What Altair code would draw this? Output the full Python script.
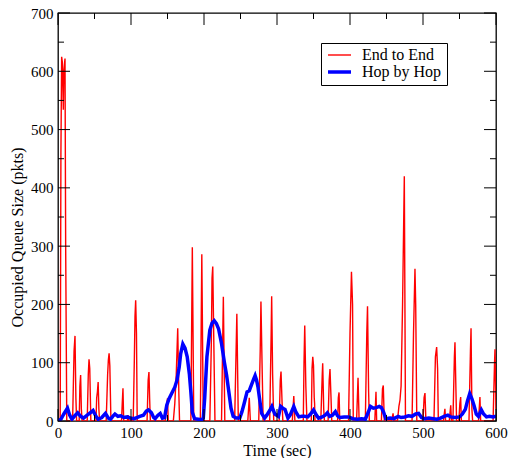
import altair as alt
import pandas as pd

# End to End queue occupancy (time in sec, queue size in pkts)
red_t = [0, 3, 4, 5, 6, 7.3, 8, 9.6, 10.5, 12,
         20, 21, 22, 23.3, 24.5, 25.5, 29, 30, 31, 32, 33,
         40, 41.5, 42.5, 43.5, 45, 52, 53, 54, 55, 56, 57,
         66, 68, 69, 70, 71, 72.5, 87, 88, 89, 90, 95, 96, 97,
         103, 104.5, 105.5, 106.4, 107.5, 108.5, 122, 123.5, 124.6, 125.5, 126.5,
         147, 148.5, 150, 151, 158, 160, 162, 164, 165.5, 166.5,
         182, 184, 186, 195, 197, 199, 208, 210, 211, 212, 213.5, 215,
         224, 226.5, 228.5, 242, 245, 247, 260, 262, 263.5,
         275, 277, 278, 279.5, 281, 290, 292, 292.7, 294, 295.5,
         303, 304.5, 305.5, 307, 308, 321, 323, 324.5,
         336, 337, 338, 339.5, 341, 347, 348, 349, 350, 351, 351.5, 352,
         360, 362, 362.6, 364, 365, 370, 371.5, 372.6, 374, 375,
         383, 384, 385, 386, 398, 400, 402, 403.5, 404.5,
         409, 411, 412.5, 421, 423, 424, 425.5, 426.5,
         434, 435.6, 436.5, 443, 444.5, 445.6, 447,
         457, 459, 460, 465, 467, 468.5, 470, 472, 474.4, 476,
         485, 487, 489, 490, 491.5, 500, 501.5, 502.7, 504,
         515, 517, 518.7, 520, 521, 528, 530, 531, 536, 538, 539,
         541, 543, 543.8, 545, 546, 549, 550.5, 551.6, 552.5,
         563, 565, 565.8, 567, 568, 576, 578, 579, 596, 598, 598.6, 600]
red_v = [0, 0, 460, 625, 615, 534, 600, 622, 300, 0,
         0, 60, 120, 146, 40, 0, 0, 60, 79, 20, 0,
         0, 80, 106, 90, 0, 0, 40, 50, 67, 20, 0,
         0, 80, 105, 116, 95, 0, 0, 30, 56, 0, 0, 10, 0,
         0, 100, 180, 207, 150, 0, 0, 70, 84, 40, 0,
         0, 25, 39, 0, 0, 30, 80, 159, 50, 0,
         0, 298, 0, 0, 286, 0, 0, 130, 245, 265, 130, 0,
         0, 213, 0, 0, 184, 0, 0, 40, 0,
         0, 120, 205, 100, 0, 0, 150, 214, 80, 0,
         0, 70, 85, 30, 0, 0, 43, 0,
         0, 100, 164, 60, 0, 0, 90, 110, 95, 40, 30, 0,
         0, 80, 99, 20, 0, 0, 70, 89, 40, 0,
         0, 40, 49, 0, 0, 150, 256, 200, 0,
         0, 74, 0, 0, 150, 197, 50, 0,
         0, 50, 0, 0, 55, 61, 0,
         0, 13, 0, 0, 25, 36, 60, 200, 420, 0,
         0, 150, 261, 200, 0, 0, 40, 48, 0,
         0, 110, 127, 90, 0, 0, 21, 0, 0, 27, 0,
         0, 110, 135, 60, 0, 0, 30, 41, 0,
         0, 120, 159, 20, 0, 0, 41, 0, 0, 100, 123, 20]

# Hop by Hop queue occupancy
blue_t = [0, 4, 8, 13, 16, 19, 23, 27, 31, 35, 40, 44, 48, 52, 55, 60, 65, 69, 72,
          75, 78, 82, 86, 90, 95, 99, 104, 108, 112, 117, 121, 124, 128, 131, 133,
          137, 140, 143, 146, 149, 152, 156, 160, 163, 166, 168, 171, 174, 177, 180,
          182, 184, 187, 192, 197, 199, 201, 204, 208, 211, 214, 217, 220, 224, 228,
          231, 234, 237, 240, 244, 249, 252, 255, 259, 262, 265, 268, 270, 272, 274,
          277, 279, 283, 286, 290, 293, 297, 302, 305, 308, 311, 315, 318, 323, 326,
          330, 334, 338, 342, 346, 350, 354, 357, 362, 366, 369, 372, 376, 380, 383,
          386, 392, 398, 404, 410, 416, 421, 425, 428, 432, 436, 440, 443, 446, 449,
          455, 460, 466, 470, 475, 480, 485, 490, 494, 498, 502, 508, 514, 519, 524,
          529, 534, 538, 544, 550, 554, 558, 561, 564, 567, 570, 573, 576, 580, 583,
          587, 591, 596, 600]
blue_v = [0, 3, 12, 22, 10, 3, 9, 14, 8, 5, 10, 14, 18, 8, 3, 6, 13, 5, 3,
          8, 12, 8, 9, 6, 7, 5, 4, 6, 8, 10, 17, 19, 14, 6, 4,
          10, 13, 5, 6, 27, 38, 48, 58, 70, 92, 115, 132, 125, 110, 80,
          50, 15, 4, 3, 2, 5, 40, 110, 156, 168, 172, 167, 158, 133, 100,
          78, 50, 22, 8, 5, 5, 16, 30, 50, 52, 62, 72, 78, 70, 58,
          30, 13, 5, 10, 18, 25, 12, 8, 25, 22, 20, 5, 10, 25, 15,
          7, 8, 8, 7, 12, 19, 10, 5, 7, 10, 14, 8, 10, 16, 9,
          6, 7, 7, 4, 3, 4, 3, 15, 25, 22, 23, 25, 23, 15, 4,
          5, 4, 8, 6, 7, 9, 8, 12, 13, 6, 4, 5, 4, 3, 5,
          8, 10, 7, 6, 7, 12, 20, 35, 47, 38, 26, 12, 8, 19, 12,
          7, 8, 7, 8]

series_names = ["End to End", "Hop by Hop"]
series_colors = ["#ff0000", "#0000ff"]
series_widths = [1.4, 3.5]

x_major = [0, 100, 200, 300, 400, 500, 600]
x_minor = [50, 150, 250, 350, 450, 550]
y_major = [0, 100, 200, 300, 400, 500, 600, 700]
y_minor = [50, 150, 250, 350, 450, 550, 650]

FONT = "Liberation Serif"
W, H = 438, 408
MAJOR, MINOR = 12, 6

lines_df = pd.concat([
    pd.DataFrame({"t": red_t, "v": red_v, "series": series_names[0]}),
    pd.DataFrame({"t": blue_t, "v": blue_v, "series": series_names[1]}),
], ignore_index=True)
lines_df["idx"] = range(len(lines_df))

x_scale = alt.Scale(domain=[0, 600], nice=False, zero=False)
y_scale = alt.Scale(domain=[0, 700], nice=False, zero=False)

# one axis definition per channel, shared by every layer so they merge cleanly
x_axis = alt.Axis(
    values=x_major, ticks=False, tickSize=0, domain=False, grid=False,
    labelFlush=False,
    labelFont=FONT, labelFontSize=15, labelColor="black", labelPadding=4,
    title="Time (sec)", titleFont=FONT, titleFontSize=16, titleFontWeight="normal",
    titleColor="black", titleX=W / 2, titleY=29, titleBaseline="middle",
    titleAlign="center")
y_axis = alt.Axis(
    values=y_major, ticks=False, tickSize=0, domain=False, grid=False,
    labelFlush=False,
    labelFont=FONT, labelFontSize=15, labelColor="black", labelPadding=5,
    labelBaseline="middle",
    title="Occupied Queue Size (pkts)", titleFont=FONT, titleFontSize=16,
    titleFontWeight="normal", titleColor="black", titleX=-41, titleY=224,
    titleBaseline="middle", titleAlign="center", titleAngle=270)

legend = alt.Legend(
    title=None, orient="none", legendX=263, legendY=30,
    strokeColor="black", fillColor="white", padding=5, rowPadding=1,
    clipHeight=14,
    labelFont=FONT, labelFontSize=16, labelColor="black", labelOffset=9,
    symbolType="stroke", symbolSize=529, symbolOpacity=1,
)

X = alt.X("t:Q", scale=x_scale, axis=x_axis)
Y = alt.Y("v:Q", scale=y_scale, axis=y_axis)

lines = alt.Chart(lines_df).mark_line(clip=True).encode(
    x=X,
    y=Y,
    color=alt.Color("series:N", scale=alt.Scale(domain=series_names, range=series_colors),
                    legend=legend),
    strokeWidth=alt.StrokeWidth("series:N",
                                scale=alt.Scale(domain=series_names, range=series_widths),
                                legend=legend),
    detail="series:N",
    order="idx:Q",
)


def x_ticks(values, length):
    """Inward tick marks along the bottom and top edges of the frame."""
    base = alt.Chart(pd.DataFrame({"t": values})).mark_rule(color="black", strokeWidth=1)
    bottom = base.encode(x=X, y=alt.value(H), y2=alt.value(H - length))
    top = base.encode(x=X, y=alt.value(0), y2=alt.value(length))
    return [bottom, top]


def y_ticks(values, length):
    """Inward tick marks along the left and right edges of the frame."""
    base = alt.Chart(pd.DataFrame({"v": values})).mark_rule(color="black", strokeWidth=1)
    left = base.encode(y=Y, x=alt.value(0), x2=alt.value(length))
    right = base.encode(y=Y, x=alt.value(W), x2=alt.value(W - length))
    return [left, right]


chart = alt.layer(
    lines,
    *x_ticks(x_major, MAJOR), *x_ticks(x_minor, MINOR),
    *y_ticks(y_major, MAJOR), *y_ticks(y_minor, MINOR),
).properties(
    width=W, height=H,
    padding={"left": 58, "top": 13, "right": 12, "bottom": 37},
    autosize=alt.AutoSizeParams(type="none"),
    background="white",
).configure_view(
    stroke="black", strokeWidth=1.3
)

chart.save("out.html", embed_options={"renderer": "svg", "actions": False})
